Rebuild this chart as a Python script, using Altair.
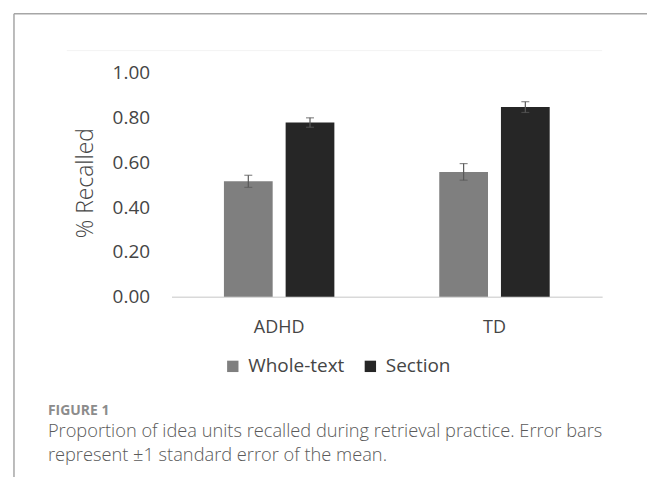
import altair as alt
import pandas as pd

groups = ["ADHD", "TD"]
conditions = ["Whole-text", "Section"]
whole_mean = [0.515, 0.557]
section_mean = [0.777, 0.846]
whole_se = [0.027, 0.037]
section_se = [0.021, 0.024]
y_ticks = [0.0, 0.2, 0.4, 0.6, 0.8, 1.0]
bar_colors = ["#7f7f7f", "#262626"]

y_title = "% Recalled"
fig_label = "FIGURE 1"
caption_1 = "Proportion of idea units recalled during retrieval practice. Error bars"
caption_2 = "represent \u00b11 standard error of the mean."

rows = []
for i, g in enumerate(groups):
    rows.append({"group": g, "cond": "Whole-text", "mean": whole_mean[i], "se": whole_se[i]})
    rows.append({"group": g, "cond": "Section", "mean": section_mean[i], "se": section_se[i]})
df = pd.DataFrame(rows)
df["lo"] = df["mean"] - df["se"]
df["hi"] = df["mean"] + df["se"]

FONT = "Open Sans"
TXT = "#454545"

x_enc = alt.X("group:N", sort=groups,
              scale=alt.Scale(paddingInner=0, paddingOuter=0),
              axis=alt.Axis(title=None, labelAngle=0, ticks=False, domainColor="#d9d9d9",
                            domainWidth=1.5, labelPadding=22, labelFontSize=18,
                            labelColor=TXT, labelFont=FONT, labelFontWeight=400))
xo_enc = alt.XOffset("cond:N", sort=conditions,
                     scale=alt.Scale(paddingInner=0.21, paddingOuter=0.85))

base = alt.Chart(df)

bars = base.mark_bar().encode(
    x=x_enc,
    xOffset=xo_enc,
    y=alt.Y("mean:Q", scale=alt.Scale(domain=[0, 1], nice=False),
            axis=alt.Axis(title=None, values=y_ticks, format=".2f", domain=False,
                          ticks=False, grid=False, labelPadding=22, labelFontSize=19,
                          labelColor=TXT, labelFont=FONT)),
    color=alt.Color("cond:N", sort=conditions,
                    scale=alt.Scale(domain=conditions, range=bar_colors),
                    legend=alt.Legend(title=None, orient="none", legendX=52, legendY=285,
                                      direction="horizontal", symbolType="square",
                                      symbolSize=130, symbolStrokeWidth=0,
                                      labelFontSize=19, labelFont=FONT, labelColor=TXT,
                                      labelOffset=6, columnPadding=16)),
)

err = base.mark_rule(color="#595959", strokeWidth=1.2).encode(
    x=alt.X("group:N", sort=groups), xOffset=xo_enc,
    y="lo:Q", y2="hi:Q")
cap_lo = base.mark_tick(color="#595959", thickness=1.2, size=8).encode(
    x=alt.X("group:N", sort=groups), xOffset=xo_enc, y="lo:Q")
cap_hi = base.mark_tick(color="#595959", thickness=1.2, size=8).encode(
    x=alt.X("group:N", sort=groups), xOffset=xo_enc, y="hi:Q")

title_df = pd.DataFrame({"t": [y_title]})
ytitle = alt.Chart(title_df).mark_text(angle=270, align="center", baseline="alphabetic",
                                        fontSize=23, font=FONT, fontWeight=300,
                                        color=TXT).encode(
    text="t:N", x=alt.value(-79), y=alt.value(111))

cap_df = pd.DataFrame({"t": [fig_label]})
figlab = alt.Chart(cap_df).mark_text(align="left", baseline="alphabetic", fontSize=14,
                                      font=FONT, fontWeight="bold", color="#8c8c8c").encode(
    text="t:N", x=alt.value(-124), y=alt.value(344))
c1 = alt.Chart(pd.DataFrame({"t": [caption_1]})).mark_text(
    align="left", baseline="alphabetic", fontSize=18.3, font=FONT, fontWeight=300,
    color="#5a5a5a").encode(
    text="t:N", x=alt.value(-124), y=alt.value(366))
c2 = alt.Chart(pd.DataFrame({"t": [caption_2]})).mark_text(
    align="left", baseline="alphabetic", fontSize=18.3, font=FONT, fontWeight=300,
    color="#5a5a5a").encode(
    text="t:N", x=alt.value(-124), y=alt.value(390))

frame_top = alt.Chart(title_df).mark_rule(color="#a6a6a6", strokeWidth=1.5).encode(
    x=alt.value(-158), x2=alt.value(490), y=alt.value(-59))
frame_left = alt.Chart(title_df).mark_rule(color="#a6a6a6", strokeWidth=1.5).encode(
    x=alt.value(-158), y=alt.value(-59), y2=alt.value(420))
area_top = alt.Chart(title_df).mark_rule(color="#f3f3f3", strokeWidth=1).encode(
    x=alt.value(-105), x2=alt.value(432), y=alt.value(-22))

chart = alt.layer(frame_top, frame_left, area_top, bars, err, cap_lo, cap_hi,
                  ytitle, figlab, c1, c2).properties(
    width=432, height=225,
    autosize=alt.AutoSizeParams(type="none"),
    padding={"left": 164, "top": 64, "right": 45, "bottom": 180},
    background="white",
).configure_view(stroke=None)

chart.save("out.html", embed_options={"renderer": "svg", "actions": False})
